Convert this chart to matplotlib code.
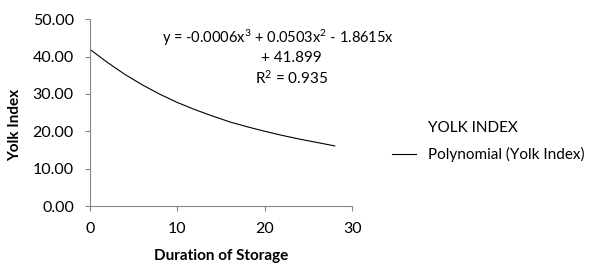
import numpy as np
import matplotlib.pyplot as plt
from matplotlib.lines import Line2D

plt.rcParams['font.family'] = ['Lato', 'DejaVu Sans']
plt.rcParams['mathtext.fontset'] = 'custom'
plt.rcParams['mathtext.rm'] = 'Lato'
plt.rcParams['mathtext.it'] = 'Lato'

# trendline values
days = [0, 2, 4, 6, 8, 10, 12, 14, 16, 18, 20, 22, 24, 26, 28]
yolk_fit = [41.9, 38.4, 35.2, 32.4, 29.9, 27.7, 25.8, 24.1, 22.5, 21.2,
            20.0, 18.9, 17.9, 17.0, 16.1]

x_ticks = [0, 10, 20, 30]
y_ticks = [0, 10, 20, 30, 40, 50]

fig = plt.figure(figsize=(6, 2.77), dpi=100)
ax = fig.add_axes([0.15, 0.256, 0.437, 0.675])

ax.plot(days, yolk_fit, color='black', lw=0.8)

ax.set_xlim(0, 30)
ax.set_ylim(0, 50)
ax.set_xticks(x_ticks)
ax.set_yticks(y_ticks)
ax.set_yticklabels(['%.2f' % v for v in y_ticks])
for s in ['top', 'right']:
    ax.spines[s].set_visible(False)
for s in ['left', 'bottom']:
    ax.spines[s].set_color('#868686')
ax.tick_params(direction='out', length=3.6, color='#868686', labelsize=11.5)
ax.tick_params(axis='x', pad=8)
ax.tick_params(axis='y', pad=8)

ax.set_xlabel('Duration of Storage', fontsize=11, fontweight='bold', labelpad=9)
ax.set_ylabel('Yolk Index', fontsize=11, fontweight='bold')
ax.yaxis.set_label_coords(-0.26, 0.433)

fig.text(0.463, 0.862, r'y = -0.0006x$\mathregular{^3}$ + 0.0503x$\mathregular{^2}$ - 1.8615x',
         ha='center', va='center', fontsize=10.5)
fig.text(0.485, 0.792, '+ 41.899', ha='center', va='center', fontsize=11)
fig.text(0.485, 0.72, r'R$\mathregular{^2}$ = 0.935', ha='center', va='center', fontsize=11)

handles = [Line2D([], [], color='none'), Line2D([], [], color='black', lw=0.8)]
labels = ['YOLK INDEX', 'Polynomial (Yolk Index)']
fig.legend(handles, labels, loc='center left', bbox_to_anchor=(0.653, 0.49),
           frameon=False, fontsize=11, borderpad=0, borderaxespad=0,
           handlelength=1.6, handletextpad=0.8, labelspacing=0.8)

fig.savefig('out.png', dpi=100)
